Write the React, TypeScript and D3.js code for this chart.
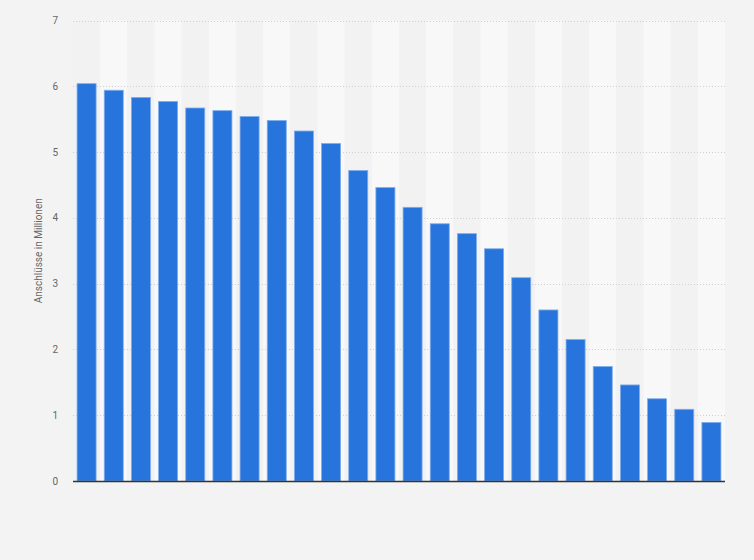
import { useEffect, useRef } from 'react';
import * as d3 from 'd3';

// Anschlüsse in Millionen, one value per bar (x labels not shown in the source)
const categories = [
  '1', '2', '3', '4', '5', '6', '7', '8', '9', '10', '11', '12',
  '13', '14', '15', '16', '17', '18', '19', '20', '21', '22', '23', '24',
];
const values = [
  6.04, 5.94, 5.83, 5.77, 5.67, 5.63, 5.54, 5.48, 5.32, 5.13, 4.72, 4.46,
  4.16, 3.91, 3.76, 3.53, 3.09, 2.6, 2.15, 1.74, 1.46, 1.25, 1.09, 0.89,
];
const yTicks = [0, 1, 2, 3, 4, 5, 6, 7];
const yLabel = 'Anschlüsse in Millionen';

const App = () => {
  const svgRef = useRef<SVGSVGElement>(null);

  useEffect(() => {
    const svg = d3.select(svgRef.current);
    svg.selectAll('*').remove();

    const width = 754;
    const height = 560;
    const left = 73;
    const right = 725;
    const top = 20.5;
    const bottom = 481;

    const data = categories.map((c, i) => ({ cat: c, value: values[i] }));

    const stripes = d3.scaleBand().domain(categories).range([left, right]).padding(0);
    const x = d3.scaleBand()
      .domain(categories)
      .range([left, right])
      .paddingInner(0.3)
      .paddingOuter(0.15);
    const y = d3.scaleLinear().domain([0, 7]).range([bottom, top]);

    svg.append('rect')
      .attr('width', width)
      .attr('height', height)
      .attr('fill', '#f3f3f3');

    // alternating column stripes
    svg.append('g')
      .selectAll('rect')
      .data(categories)
      .enter()
      .append('rect')
      .attr('x', d => stripes(d)!)
      .attr('y', top)
      .attr('width', stripes.bandwidth())
      .attr('height', bottom - top)
      .attr('fill', (d, i) => (i % 2 === 1 ? '#f8f8f8' : '#f2f2f2'));

    // grid
    svg.append('g')
      .selectAll('line')
      .data(yTicks.filter(t => t > 0))
      .enter()
      .append('line')
      .attr('x1', left)
      .attr('x2', right)
      .attr('y1', d => Math.round(y(d)) + 0.5)
      .attr('y2', d => Math.round(y(d)) + 0.5)
      .attr('stroke', '#cfcfcf')
      .attr('stroke-dasharray', '1,2');

    // y tick labels
    svg.append('g')
      .selectAll('text')
      .data(yTicks)
      .enter()
      .append('text')
      .attr('x', 58)
      .attr('y', d => y(d))
      .attr('dy', '0.35em')
      .attr('text-anchor', 'end')
      .attr('font-family', 'Roboto, Arial, sans-serif')
      .attr('font-size', 10)
      .attr('fill', '#666')
      .text(d => d);

    svg.append('text')
      .attr('transform', `translate(42,${(top + bottom) / 2}) rotate(-90)`)
      .attr('text-anchor', 'middle')
      .attr('font-family', 'Roboto, Arial, sans-serif')
      .attr('font-size', 10)
      .attr('fill', '#666')
      .text(yLabel);

    // bars
    svg.append('g')
      .selectAll('rect')
      .data(data)
      .enter()
      .append('rect')
      .attr('x', d => x(d.cat)!)
      .attr('y', d => y(d.value))
      .attr('width', x.bandwidth())
      .attr('height', d => bottom - y(d.value))
      .attr('fill', '#2775dc')
      .attr('stroke', '#7eacec')
      .attr('stroke-width', 0.8);

    // x axis line
    svg.append('line')
      .attr('x1', left)
      .attr('x2', right)
      .attr('y1', bottom + 0.5)
      .attr('y2', bottom + 0.5)
      .attr('stroke', '#333')
      .attr('stroke-width', 1.5);
  }, []);

  return (
    <svg
      ref={svgRef}
      width={754}
      height={560}
      style={{ position: 'absolute', left: 0, top: 0, display: 'block' }}
    />
  );
};

export default App;
